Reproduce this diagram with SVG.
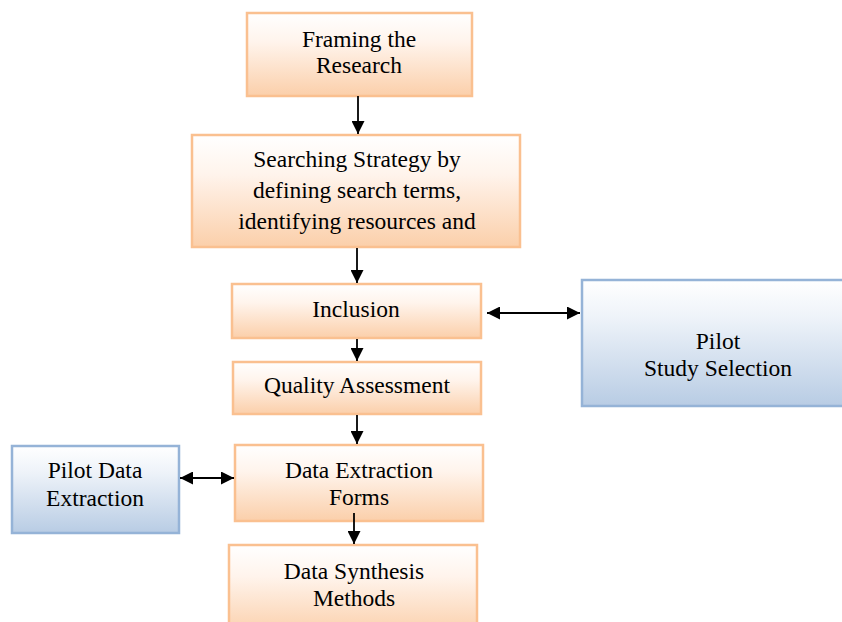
<svg xmlns="http://www.w3.org/2000/svg" width="842" height="622" viewBox="0 0 842 622">
<defs>
<linearGradient id="gO" x1="0" y1="0" x2="0" y2="1">
<stop offset="0" stop-color="#FFFFFF"/><stop offset="0.35" stop-color="#FFF4EC"/><stop offset="1" stop-color="#FBCFAA"/>
</linearGradient>
<linearGradient id="gB" x1="0" y1="0" x2="0" y2="1">
<stop offset="0" stop-color="#FFFFFF"/><stop offset="0.3" stop-color="#EEF3F9"/><stop offset="1" stop-color="#B8CCE4"/>
</linearGradient>
<marker id="ah" viewBox="0 0 10 10" refX="10" refY="5" markerWidth="13" markerHeight="13" markerUnits="userSpaceOnUse" orient="auto-start-reverse">
<path d="M0,0 L10,5 L0,10 Z" fill="#000"/>
</marker>
<style>
.o{fill:url(#gO);stroke:#FAC090;stroke-width:2.5}
.b{fill:url(#gB);stroke:#95B3D7;stroke-width:2.5}
text{font-family:"Liberation Serif","Times New Roman",serif;font-size:23.5px;fill:#000;text-anchor:middle}
.c{stroke:#000;stroke-width:1.8;fill:none}
</style>
</defs>
<rect width="842" height="622" fill="#fff"/>
<g id="n1"><rect class="o" x="247" y="13" width="225" height="83"/><text x="359" y="47">Framing the</text><text x="359" y="73">Research</text></g>
<g id="n2"><rect class="o" x="192" y="135" width="328" height="112"/><text x="357" y="167">Searching Strategy by</text><text x="357" y="198">defining search terms,</text><text x="357" y="229">identifying resources and</text></g>
<g id="n3"><rect class="o" x="232" y="284" width="249" height="54"/><text x="356" y="317">Inclusion</text></g>
<g id="n4"><rect class="b" x="582" y="280" width="262" height="126"/><text x="718" y="349">Pilot</text><text x="718" y="376">Study Selection</text></g>
<g id="n5"><rect class="o" x="233" y="362" width="248" height="52"/><text x="357" y="393">Quality Assessment</text></g>
<g id="n6"><rect class="o" x="235" y="445" width="248" height="76"/><text x="359" y="478">Data Extraction</text><text x="359" y="505">Forms</text></g>
<g id="n7"><rect class="b" x="12" y="446" width="167" height="87"/><text x="95" y="478">Pilot Data</text><text x="95" y="506">Extraction</text></g>
<g id="n8"><rect class="o" x="229" y="545" width="248" height="90"/><text x="354" y="579">Data Synthesis</text><text x="354" y="606">Methods</text></g>
<g id="connectors">
<line class="c" x1="358" y1="96" x2="358" y2="134" marker-end="url(#ah)"/>
<line class="c" x1="357" y1="248" x2="357" y2="283" marker-end="url(#ah)"/>
<line class="c" x1="487" y1="313" x2="580" y2="313" marker-start="url(#ah)" marker-end="url(#ah)"/>
<line class="c" x1="357" y1="339" x2="357" y2="361" marker-end="url(#ah)"/>
<line class="c" x1="357" y1="415" x2="357" y2="444" marker-end="url(#ah)"/>
<line class="c" x1="180" y1="478" x2="234" y2="478" marker-start="url(#ah)" marker-end="url(#ah)"/>
<line class="c" x1="354" y1="513" x2="354" y2="544" marker-end="url(#ah)"/>
</g>
</svg>
